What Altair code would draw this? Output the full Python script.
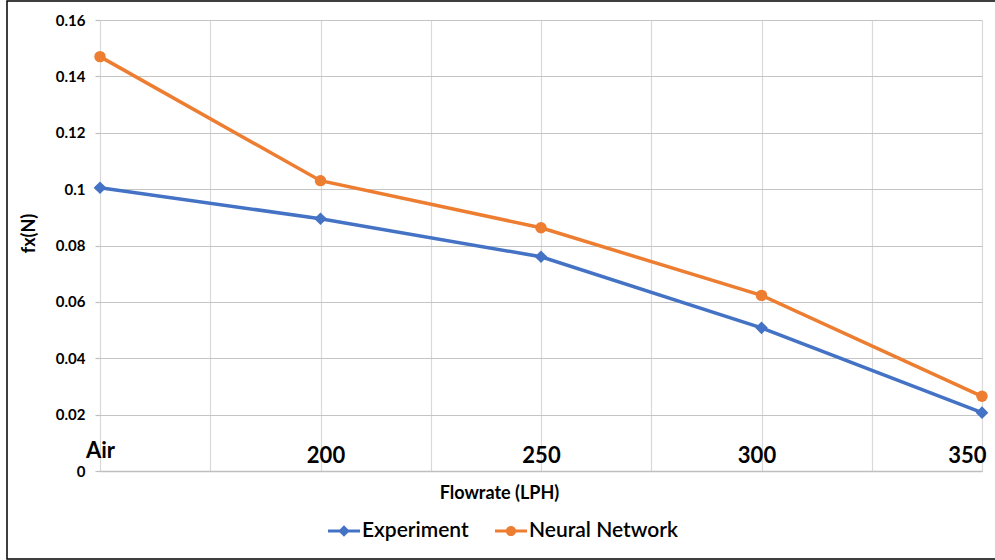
import json
import altair as alt
import pandas as pd

# Flowrate categories (first point is the air-only reference case)
categories = ["Air", "200", "250", "300", "350"]
experiment = [0.1005, 0.0895, 0.0760, 0.0508, 0.0207]
neural_network = [0.1470, 0.1030, 0.0863, 0.0623, 0.0265]
series_names = ["Experiment", "Neural Network"]
series_colors = ["#4472C4", "#ED7D31"]

rows = []
for i, cat in enumerate(categories):
    rows.append({"idx": i, "flow": cat, "series": series_names[0], "fx": experiment[i]})
    rows.append({"idx": i, "flow": cat, "series": series_names[1], "fx": neural_network[i]})
df = pd.DataFrame(rows)

FONT = "Lato"
label_expr = "datum.value % 1 == 0 ? " + json.dumps(categories) + "[datum.value] : ''"

x_enc = alt.X(
    "idx:Q",
    scale=alt.Scale(domain=[0, len(categories) - 1], nice=False, zero=False),
    axis=alt.Axis(
        title="Flowrate (LPH)",
        values=[i / 2 for i in range(2 * (len(categories) - 1) + 1)],
        labelExpr=label_expr,
        labelFont=FONT,
        labelFontSize=22,
        labelFontWeight="bold",
        labelColor="#000000",
        labelBaseline="alphabetic",
        labelAlign={"condition": {"test": "datum.value == 4", "value": "right"}, "value": "center"},
        labelOffset={
            "condition": [
                {"test": "datum.value == 1", "value": 5},
                {"test": "datum.value == 3", "value": -5},
                {"test": "datum.value == 4", "value": 4},
            ],
            "value": 0,
        },
        labelPadding={"condition": {"test": "datum.value == 0", "value": -14}, "value": -9},
        labelOverlap=False,
        labelFlush=False,
        ticks=False,
        domain=True,
        domainColor="#bfbfbf",
        domainWidth=1.5,
        grid=True,
        gridColor="#d9d9d9",
        gridWidth=1.2,
        titleFont=FONT,
        titleFontSize=18,
        titleFontWeight="bold",
        titleColor="#000000",
        titleAnchor="start",
        titleAlign="center",
        titleBaseline="middle",
        titleX=399,
        titleY=22,
    ),
)

y_enc = alt.Y(
    "fx:Q",
    scale=alt.Scale(domain=[0, 0.16], nice=False),
    axis=alt.Axis(
        title="fx(N)",
        values=[0, 0.02, 0.04, 0.06, 0.08, 0.1, 0.12, 0.14, 0.16],
        format=".2~f",
        labelFont=FONT,
        labelFontSize=15,
        labelFontWeight="bold",
        labelColor="#000000",
        labelPadding=10,
        ticks=True,
        tickSize=5,
        tickColor="#bfbfbf",
        tickWidth=1.2,
        domain=False,
        grid=True,
        gridColor="#c4c4c4",
        gridWidth=1.2,
        titleFont=FONT,
        titleFontSize=18,
        titleFontWeight="bold",
        titleColor="#000000",
        titleAngle=270,
        titleAlign="center",
        titleBaseline="middle",
        titleX=-71,
        titleY=213,
    ),
)

color_scale = alt.Scale(domain=series_names, range=series_colors)

# Legend entries: a short line segment with the series marker on it
diamond_sym = "M-1,-0.1H1V0.1H-1Z M0,-0.36L0.36,0L0,0.36L-0.36,0Z"
circle_sym = ("M-1,-0.1H1V0.1H-1Z "
              "M-0.32,0A0.32,0.32 0 1,1 0.32,0A0.32,0.32 0 1,1 -0.32,0Z")

legend_spec = alt.Legend(
    title=None,
    orient="none",
    direction="horizontal",
    legendX=228,
    legendY=495,
    symbolSize=1024,
    symbolOpacity=1,
    symbolStrokeWidth=0,
    labelFont=FONT,
    labelFontSize=21,
    labelFontWeight=600,
    labelColor="#000000",
    labelOffset=2,
    columnPadding=26,
    padding=0,
)

base = alt.Chart(df)

lines = base.mark_line(strokeWidth=3.5).encode(
    x=x_enc,
    y=y_enc,
    color=alt.Color("series:N", scale=color_scale, legend=legend_spec),
    detail="series:N",
)

diamonds = base.transform_filter(alt.datum.series == series_names[0]).mark_point(
    filled=True, shape="diamond", size=160, opacity=1
).encode(
    x="idx:Q",
    y="fx:Q",
    color=alt.Color("series:N", scale=color_scale, legend=legend_spec),
)

circles = base.transform_filter(alt.datum.series == series_names[1]).mark_point(
    filled=True, shape="circle", size=130, opacity=1
).encode(
    x="idx:Q",
    y="fx:Q",
    color=alt.Color("series:N", scale=color_scale, legend=legend_spec),
)

legend_layer = base.mark_point(filled=True, opacity=0).encode(
    x="idx:Q",
    y="fx:Q",
    color=alt.Color("series:N", scale=color_scale, legend=legend_spec),
    shape=alt.Shape(
        "series:N",
        scale=alt.Scale(domain=series_names, range=[diamond_sym, circle_sym]),
        legend=legend_spec,
    ),
)

# Thin black frame around the whole figure
frame = alt.Chart(pd.DataFrame({"k": [0]})).mark_rect(
    filled=False, stroke="#000000", strokeWidth=1.5
).encode(
    x=alt.value(-93), x2=alt.value(920), y=alt.value(-19), y2=alt.value(539)
)

chart = alt.layer(frame, lines, diamonds, circles, legend_layer).properties(
    width=882,
    height=451,
    autosize="none",
    padding={"left": 100, "top": 20, "right": 13, "bottom": 89},
    background="#ffffff",
).configure_view(stroke=None)

chart.save("out.html", embed_options={"renderer": "svg", "actions": False})
